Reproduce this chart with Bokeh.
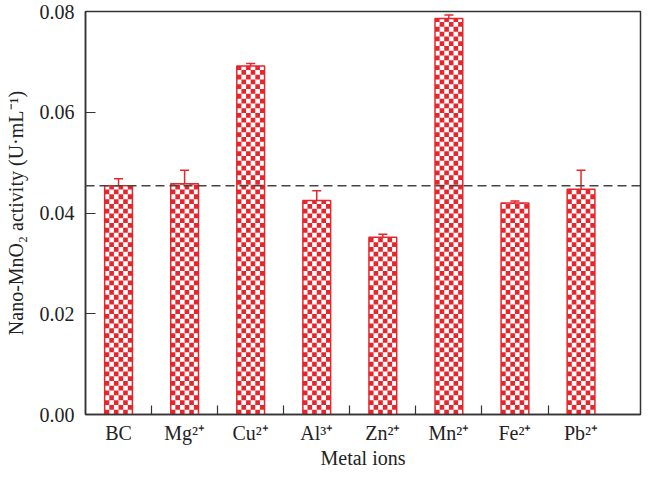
import numpy as np
from bokeh.plotting import figure
from bokeh.models import (ColumnDataSource, Range1d, FixedTicker, PrintfTickFormatter,
                          Span, Whisker, TeeHead)
from bokeh.embed import file_html
from bokeh.resources import INLINE

# ---- data ----
categories = ["BC", "Mg\u00b2\u207a", "Cu\u00b2\u207a", "Al\u00b3\u207a", "Zn\u00b2\u207a",
              "Mn\u00b2\u207a", "Fe\u00b2\u207a", "Pb\u00b2\u207a"]
activity = [0.0454, 0.0458, 0.0692, 0.0425, 0.0352, 0.0786, 0.0420, 0.0447]
errors = [0.0014, 0.0027, 0.0005, 0.0019, 0.0006, 0.0007, 0.0004, 0.0038]
y_ticks = [0.0, 0.02, 0.04, 0.06, 0.08]

RED = "#e5262c"
DARK = "#333333"
FONT = "Liberation Serif"
BAR_W = 0.42
N_COLS = 6          # checker cells across one bar
CELL_H = 0.00095    # checker cell height in data units

xs = list(range(len(categories)))
source = ColumnDataSource(dict(
    x=xs, top=activity,
    upper=[a + e for a, e in zip(activity, errors)],
    lower=[a - e for a, e in zip(activity, errors)],
))

# checker cells derived from the bar values
cl, cr, cb, ct = [], [], [], []
cw = BAR_W / N_COLS
for x, top in zip(xs, activity):
    n_rows = int(np.ceil(top / CELL_H))
    for r in range(n_rows):
        b = r * CELL_H
        t = min(top, b + CELL_H)
        for c in range(N_COLS):
            if (r + c) % 2 == 0:
                l = x - BAR_W / 2 + c * cw
                cl.append(l); cr.append(l + cw); cb.append(b); ct.append(t)
cells = ColumnDataSource(dict(left=cl, right=cr, bottom=cb, top=ct))

p = figure(width=642, height=471, output_backend="svg", toolbar_location=None,
           x_range=Range1d(-0.5, 7.9), y_range=Range1d(0, 0.08),
           min_border_top=11, min_border_right=2, min_border_left=85, min_border_bottom=40)

p.vbar(x="x", top="top", width=BAR_W, source=source, fill_color="white", line_color=None)
p.quad(left="left", right="right", bottom="bottom", top="top", source=cells,
       fill_color=RED, line_color=None)
p.vbar(x="x", top="top", width=BAR_W, source=source, fill_color=None,
       line_color=RED, line_width=1.5)

whisk = Whisker(base="x", upper="upper", lower="lower", source=source,
                line_color=RED, line_width=1.5,
                upper_head=TeeHead(size=9, line_color=RED, line_width=1.5),
                lower_head=None)
p.add_layout(whisk)

p.add_layout(Span(location=activity[0], dimension="width", line_color="#444444",
                  line_width=1.5, line_dash="9 5"))

p.xgrid.visible = False
p.ygrid.visible = False
p.outline_line_color = DARK
p.outline_line_width = 1.5
p.outline_line_alpha = 1.0

# x axis: labels at centers, ticks between bars (minor ticks)
p.xaxis.ticker = FixedTicker(ticks=xs, minor_ticks=[i + 0.5 for i in xs[:-1]])
p.xaxis.major_label_overrides = {i: c for i, c in zip(xs, categories)}
p.xaxis.major_tick_in = 0
p.xaxis.major_tick_out = 0
p.xaxis.minor_tick_in = 9
p.xaxis.minor_tick_out = 0
p.xaxis.major_label_standoff = 7
p.xaxis.axis_label = "Metal ions"
p.xaxis.axis_label_standoff = 0

p.yaxis.ticker = FixedTicker(ticks=y_ticks, minor_ticks=[])
p.yaxis.formatter = PrintfTickFormatter(format="%.2f")
p.yaxis.major_tick_in = 10
p.yaxis.major_tick_out = 0
p.yaxis.minor_tick_in = 0
p.yaxis.minor_tick_out = 0
p.yaxis.major_label_standoff = 11
p.yaxis.axis_label = "Nano-MnO\u2082 activity (U\u00b7mL\u207b\u00b9)"
p.yaxis.axis_label_standoff = 10

for ax in (p.xaxis[0], p.yaxis[0]):
    ax.axis_line_color = DARK
    ax.axis_line_width = 1.5
    ax.major_tick_line_color = DARK
    ax.minor_tick_line_color = DARK
    ax.major_tick_line_width = 1.2
    ax.minor_tick_line_width = 1.2
    ax.major_label_text_font = FONT
    ax.major_label_text_font_size = "20px"
    ax.major_label_text_color = "#222222"
    ax.axis_label_text_font = FONT
    ax.axis_label_text_font_size = "20px"
    ax.axis_label_text_font_style = "normal"
    ax.axis_label_text_color = "#222222"

open("out.html", "w").write(file_html(p, INLINE))
